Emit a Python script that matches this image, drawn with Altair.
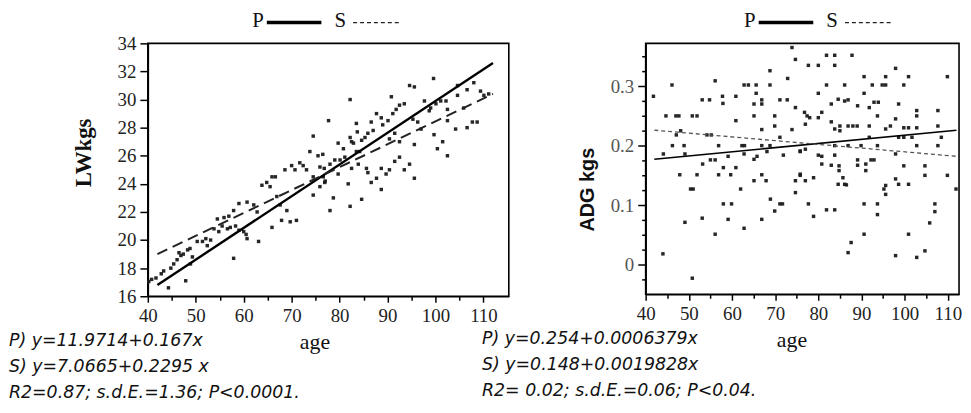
import altair as alt
import pandas as pd

# ---------------- data ----------------
lw_age = [40.8, 41.7, 42.8, 43.3, 44.3, 44.8, 45.4, 46.1, 46.9, 47.4, 46.5, 47.9, 48.3, 48.8, 49.3, 48.9,
          50.3, 51.4, 52.1, 52.4, 53.1, 53.8, 54.8, 55.5, 56.6, 57.2, 58.3, 59.0, 54.5, 55.9, 56.9, 57.9,
          57.9, 59.0, 60.7, 60.0, 60.7, 62.1, 62.8, 63.1, 63.8, 64.8, 65.9, 66.6, 65.5, 65.9, 66.9, 67.6,
          67.9, 69.0, 68.6, 70.0, 70.7, 71.7, 72.4, 69.7, 71.0, 73.1, 73.8, 74.5, 74.5, 75.5, 75.9, 76.6,
          76.9, 74.5, 40.2, 60.5,
          77.7, 82.2, 94.6, 95.6, 99.6, 90.8, 76.5, 76.8, 78.0, 79.0, 80.1, 81.1, 79.7, 80.8, 82.2, 82.9,
          83.5, 83.7, 84.6, 85.3, 85.9, 87.0, 86.6, 87.7, 88.7, 82.5, 83.5, 84.2, 77.0, 75.9, 79.7, 78.7,
          78.0, 81.8, 82.2, 84.6, 82.5, 83.9, 85.6, 85.9, 86.6, 87.7, 88.7, 88.7, 89.7, 90.4, 91.5, 92.5,
          93.5, 94.6, 95.6, 89.0, 90.1, 91.1, 91.8, 92.5, 93.5, 90.4, 91.5, 92.5, 95.6, 95.3, 96.3, 97.0,
          97.7, 98.7, 99.0, 99.7, 100.4, 101.5, 100.1, 101.1, 102.5, 102.2, 102.5, 102.5, 104.6, 104.6,
          106.6, 104.2, 106.6, 107.7, 108.7, 108.0, 109.4, 110.1, 105.9, 111.1]
lw_kg = [17.2, 17.3, 17.6, 17.8, 16.6, 18.0, 18.3, 18.6, 18.9, 19.0, 19.1, 17.1, 19.3, 19.4, 18.8, 18.3,
         19.9, 19.9, 20.1, 19.6, 20.0, 20.8, 20.6, 21.0, 20.8, 20.9, 21.0, 20.7, 21.5, 21.6, 21.7, 22.1,
         18.7, 22.6, 22.7, 20.6, 20.1, 22.5, 22.0, 19.9, 23.9, 24.1, 24.5, 24.5, 23.8, 20.9, 23.1, 22.5,
         21.4, 22.1, 25.0, 25.3, 25.0, 25.5, 25.3, 21.3, 21.4, 25.0, 26.3, 24.5, 23.2, 26.0, 25.2, 24.5,
         24.1, 27.4, 17.05, 20.4,
         28.5, 30.0, 31.0, 30.9, 31.5, 30.2, 26.1, 25.1, 25.4, 25.7, 25.7, 25.9, 26.9, 26.5, 27.3, 26.9,
         28.3, 27.7, 27.1, 27.3, 27.6, 27.8, 28.4, 29.0, 28.7, 27.0, 26.3, 26.3, 24.2, 23.8, 24.7, 23.0,
         22.1, 24.0, 22.4, 22.9, 25.1, 25.4, 25.1, 24.8, 24.1, 24.4, 25.1, 23.6, 24.7, 25.0, 25.6, 25.9,
         25.0, 25.4, 24.4, 28.2, 28.5, 29.0, 29.3, 29.6, 29.7, 27.2, 27.6, 27.0, 26.8, 28.6, 28.4, 27.9,
         29.9, 29.2, 29.4, 27.5, 26.5, 27.0, 29.7, 29.9, 26.0, 29.9, 29.3, 28.5, 31.0, 30.3,
         30.7, 27.9, 28.0, 28.4, 28.4, 31.2, 30.6, 30.3, 29.4, 30.4]

adg_age = [41.8, 44.0, 46.1, 44.7, 47.0, 47.7, 44.1, 46.2, 47.1, 48.1, 48.9, 49.1, 47.9, 49.1, 50.4, 51.0,
           50.8, 50.8, 51.9, 51.9, 53.1, 54.8, 53.2, 53.1, 54.2, 55.2, 55.0, 56.1, 56.1, 56.1, 56.9, 56.9,
           57.8, 57.9, 58.0, 58.0, 59.1, 59.1, 59.7, 59.9, 60.9, 60.9, 60.9, 62.0, 62.3, 62.9, 62.8, 62.8,
           62.8, 63.8, 65.1, 65.1, 65.1, 65.6, 65.6, 65.8, 65.1, 66.9, 66.9, 66.9, 66.9, 66.9, 66.9, 67.9,
           68.1, 68.8, 68.8, 68.8, 68.9, 69.9, 69.9, 69.9, 71.1, 71.1, 71.1, 71.7, 71.9, 72.8, 72.9, 73.9,
           74.7, 74.7, 73.9, 74.7, 74.7, 75.8, 75.8,
           77.7, 80.0, 81.9, 83.8, 83.8, 87.8, 81.9, 86.1, 80.0, 83.0, 84.6, 86.1, 86.9, 89.1, 90.6, 90.6,
           92.5, 94.8, 95.6, 95.6, 97.9, 100.9, 99.8, 91.8, 92.9, 93.9, 98.6, 109.9, 76.8, 77.4, 78.0, 77.0,
           80.0, 80.8, 83.0, 83.8, 85.0, 85.0, 86.9, 88.0, 89.0, 93.7, 91.8, 95.6, 96.7, 97.9, 99.8, 100.9,
           102.8, 102.8, 102.8, 107.7, 107.7, 108.5, 91.8, 98.6, 99.8, 101.7, 102.8, 107.7, 93.7, 97.9,
           89.9, 86.9, 83.8, 75.8, 77.0, 80.0, 80.8, 83.8, 80.8, 83.0, 84.8, 84.8, 89.1, 89.1, 91.0, 91.0,
           92.2, 92.9, 99.8, 104.7, 104.7, 109.9, 111.9, 75.8, 77.0, 78.9, 85.7, 86.1, 84.6, 86.5, 97.9,
           98.6, 100.9, 95.6, 95.2, 95.6, 77.7, 78.9, 81.9, 83.8, 90.6, 93.7, 93.7, 107.0, 107.0, 105.8,
           90.6, 100.9, 87.6, 86.9, 97.9, 102.8, 104.7]
adg_kg = [0.283, 0.018, 0.302, 0.250, 0.250, 0.250, 0.186, 0.200, 0.218, 0.225, 0.200, 0.186, 0.151, 0.071,
          0.127, 0.127, -0.023, 0.250, 0.250, 0.151, 0.277, 0.277, 0.169, 0.078, 0.218, 0.218, 0.176, 0.176,
          0.309, 0.051, 0.200, 0.151, 0.283, 0.271, 0.163, 0.102, 0.182, 0.076, 0.151, 0.102, 0.283, 0.242,
          0.163, 0.127, 0.200, 0.200, 0.061, 0.186, 0.302, 0.302, 0.270, 0.250, 0.177, 0.302, 0.288, 0.182,
          0.141, 0.277, 0.270, 0.227, 0.200, 0.151, 0.076, 0.141, 0.190, 0.326, 0.302, 0.200, 0.110, 0.250,
          0.233, 0.090, 0.277, 0.214, 0.102, 0.102, 0.184, 0.277, 0.313, 0.365, 0.345, 0.264, 0.227, 0.141,
          0.121, 0.190, 0.152,
          0.335, 0.335, 0.352, 0.352, 0.335, 0.352, 0.302, 0.302, 0.288, 0.270, 0.278, 0.275, 0.277, 0.267,
          0.316, 0.288, 0.302, 0.302, 0.302, 0.316, 0.330, 0.316, 0.302, 0.264, 0.273, 0.273, 0.270, 0.316,
          0.256, 0.250, 0.247, 0.236, 0.247, 0.256, 0.240, 0.228, 0.225, 0.233, 0.233, 0.233, 0.233, 0.250,
          0.233, 0.228, 0.233, 0.245, 0.230, 0.230, 0.230, 0.259, 0.250, 0.259, 0.233, 0.214, 0.214, 0.214,
          0.214, 0.214, 0.200, 0.200, 0.200, 0.186, 0.200, 0.200, 0.200, 0.191, 0.194, 0.184, 0.182, 0.184,
          0.169, 0.167, 0.166, 0.158, 0.176, 0.167, 0.169, 0.158, 0.176, 0.176, 0.166, 0.166, 0.150, 0.150,
          0.127, 0.150, 0.141, 0.146, 0.146, 0.135, 0.135, 0.134, 0.144, 0.135, 0.135, 0.133, 0.127, 0.118,
          0.102, 0.081, 0.092, 0.092, 0.102, 0.102, 0.084, 0.102, 0.089, 0.070, 0.051, 0.051, 0.037, 0.020,
          0.015, 0.012, 0.023]

# fitted lines (end points)
lw_line_age = [42, 112]
lw_solid = [16.8, 32.6]
lw_dashed = [19.0, 30.4]
adg_line_age = [42, 112]
adg_solid = [0.177, 0.226]
adg_dashed = [0.226, 0.182]

# tick values (major labelled + minor unlabelled)
lw_x_ticks = [40, 45, 50, 55, 60, 65, 70, 75, 80, 85, 90, 95, 100, 105, 110]
lw_y_ticks = [16, 18, 20, 22, 24, 26, 28, 30, 32, 34]
adg_x_ticks = [40, 45, 50, 55, 60, 65, 70, 75, 80, 85, 90, 95, 100, 105, 110]
adg_y_ticks = [-0.025, 0, 0.025, 0.05, 0.075, 0.1, 0.125, 0.15, 0.175, 0.2, 0.225, 0.25, 0.275,
               0.3, 0.325, 0.35]

left_eq = "P) y=11.9714+0.167x\nS) y=7.0665+0.2295 x\nR2=0.87; s.d.E.=1.36;  P<0.0001."
right_eq = "P) y=0.254+0.0006379x\nS) y=0.148+0.0019828x\nR2= 0.02; s.d.E.=0.06; P<0.04."

SERIF = "Liberation Serif"
SANS = "DejaVu Sans"
INK = "#1a1a1a"

one = pd.DataFrame({"a": [0]})

X_MINOR = "datum.value % 10 != 0"


def panel(px, py, lx, ys, yd, xdom, ydom, xticks, yticks, y_minor_test, y_label_expr,
          ytitle, ytitle_font, w, h, eq, eq_x, ytitle_x, ytitle_y, age_x, ylabel_color,
          dash, thin, lg_left, lg_y):
    pts = pd.DataFrame({"age": px, "val": py})
    lines = pd.DataFrame({"age": lx + lx, "val": ys + yd,
                          "kind": ["S"] * len(lx) + ["D"] * len(lx)})
    xs = alt.Scale(domain=xdom, nice=False, zero=False)
    ysc = alt.Scale(domain=ydom, nice=False, zero=False)

    xaxis = alt.Axis(values=xticks, tickCount=60,
                     labelExpr="datum.value % 10 == 0 ? format(datum.value, 'd') : ''",
                     tickSize={"condition": {"test": X_MINOR, "value": 4}, "value": 6},
                     labelPadding=4, labelFont=SERIF, labelFontSize=19, labelColor="#222",
                     title="age", titleFont=SERIF, titleFontSize=22, titleFontWeight="normal",
                     titleColor="#111", titleX=age_x, titleY=53, titleBaseline="alphabetic",
                     domainColor="black", domainWidth=1.6, tickColor="black", tickWidth=1.5,
                     grid=False, labelFlush=False, labelOverlap=False)
    yaxis = alt.Axis(values=yticks, tickCount=60, labelExpr=y_label_expr,
                     tickSize={"condition": {"test": y_minor_test, "value": 4}, "value": 8},
                     labelPadding=4, labelFont=SERIF, labelFontSize=19, labelColor=ylabel_color,
                     title=ytitle, titleFont=ytitle_font[0], titleFontSize=ytitle_font[1],
                     titleFontWeight="bold", titleColor="#111", titleX=ytitle_x,
                     titleY=ytitle_y, titleAngle=270, titleAlign="center",
                     titleBaseline="middle", domainColor="black", domainWidth=1.6,
                     tickColor="black", tickWidth=1.5, grid=False, labelFlush=False,
                     labelOverlap=False)

    base_pts = alt.Chart(pts).mark_square(size=12, color=INK, opacity=0.95).encode(
        x=alt.X("age:Q", scale=xs, axis=xaxis),
        y=alt.Y("val:Q", scale=ysc, axis=yaxis),
    )
    solid = alt.Chart(lines).transform_filter(alt.datum.kind == "S").mark_line(
        color="black", strokeWidth=2.4 if not thin else 1.6).encode(
        x=alt.X("age:Q", scale=xs), y=alt.Y("val:Q", scale=ysc))
    dashed = alt.Chart(lines).transform_filter(alt.datum.kind == "D").mark_line(
        color="#222" if not thin else "#555", strokeWidth=2.0 if not thin else 1.3,
        strokeDash=dash).encode(
        x=alt.X("age:Q", scale=xs), y=alt.Y("val:Q", scale=ysc))

    eq_txt = alt.Chart(one).mark_text(
        text=eq, lineBreak="\n", lineHeight=26.5, align="left", baseline="middle",
        font=SANS, fontStyle="italic", fontSize=17.5, color="#111").encode(
        x=alt.value(eq_x), y=alt.value(h + 45))

    p_txt = alt.Chart(one).mark_text(text="P", align="center", baseline="middle",
                                     font=SERIF, fontSize=21, color="#111").encode(
        x=alt.value(lg_left), y=alt.value(lg_y))
    s_txt = alt.Chart(one).mark_text(text="S", align="center", baseline="middle",
                                     font=SERIF, fontSize=21, color="#111").encode(
        x=alt.value(lg_left + 83), y=alt.value(lg_y))
    p_rule = alt.Chart(one).mark_rule(color="black", strokeWidth=3.5).encode(
        x=alt.value(lg_left + 9), x2=alt.value(lg_left + 64), y=alt.value(lg_y + 1))
    s_rule = alt.Chart(one).mark_rule(color="#222", strokeWidth=1.3, strokeDash=[4, 3]).encode(
        x=alt.value(lg_left + 96), x2=alt.value(lg_left + 142), y=alt.value(lg_y + 1))

    return alt.layer(base_pts, solid, dashed, eq_txt, p_txt, s_txt, p_rule, s_rule).properties(
        width=w, height=h)


left = panel(lw_age, lw_kg, lw_line_age, lw_solid, lw_dashed, [40, 115.3], [16, 34],
             lw_x_ticks, lw_y_ticks, "false", "format(datum.value, 'd')", "LWkgs", (SERIF, 23),
             364, 255, left_eq, -140, -65, 110, 168, "#222", [11, 6], False, 111, -22)
right = panel(adg_age, adg_kg, adg_line_age, adg_solid, adg_dashed, [40, 112.6], [-0.05, 0.372],
              adg_x_ticks, adg_y_ticks,
              "abs(datum.value * 10 - round(datum.value * 10)) > 0.001",
              "abs(datum.value * 10 - round(datum.value * 10)) < 0.001 ? format(datum.value, '.1~f') : ''",
              "ADG kgs", ("Liberation Sans", 20), 316, 253, right_eq, -165, -59, 147, 147, "#555",
              [4, 3], True, 105, -22)

chart = alt.hconcat(left, right, spacing=138, bounds="flush").properties(
    padding={"left": 0, "top": 0, "right": 0, "bottom": 0}
).configure_view(stroke="black", strokeWidth=1.6).configure_axis(
    labelFont=SERIF, labelFontSize=19
)

chart.save("out.html", embed_options={"renderer": "svg", "actions": False})
